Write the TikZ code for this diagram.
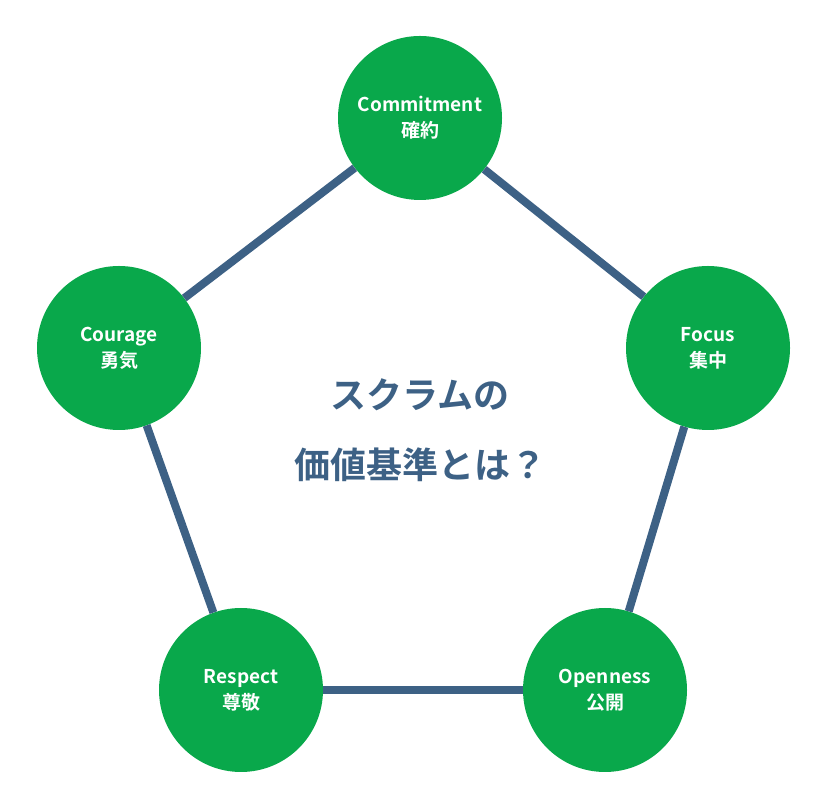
\documentclass[tikz,border=0pt]{standalone}
\usepackage{fontspec}
\setmainfont{Noto Sans CJK JP}[BoldFont={* Bold}]
\begin{document}
\begin{tikzpicture}[x=1pt,y=1pt]
\definecolor{vgreen}{HTML}{09A84B}
\definecolor{vblue}{HTML}{3D6185}
\tikzset{val/.style={circle,fill=vgreen,minimum size=164pt,inner sep=0pt,align=center,text=white,font=\bfseries\fontsize{19}{26}\selectfont},
edge/.style={draw=vblue,line width=8pt}}
\useasboundingbox (0,0) rectangle (829,810);
\node[val] (c) at (420,692) {Commitment\\確約};
\node[val] (f) at (708,462) {Focus\\集中};
\node[val] (o) at (605,120) {Openness\\公開};
\node[val] (r) at (241,120) {Respect\\尊敬};
\node[val] (g) at (119,462) {Courage\\勇気};
\begin{scope}[on background layer/.try]
\end{scope}
\draw[edge] (c) -- (f);
\draw[edge] (f) -- (o);
\draw[edge] (o) -- (r);
\draw[edge] (r) -- (g);
\draw[edge] (g) -- (c);
\node[align=center,text=vblue,font=\bfseries\fontsize{36}{70}\selectfont] (t) at (420,380) {スクラムの\\価値基準とは？};
\end{tikzpicture}
\end{document}
